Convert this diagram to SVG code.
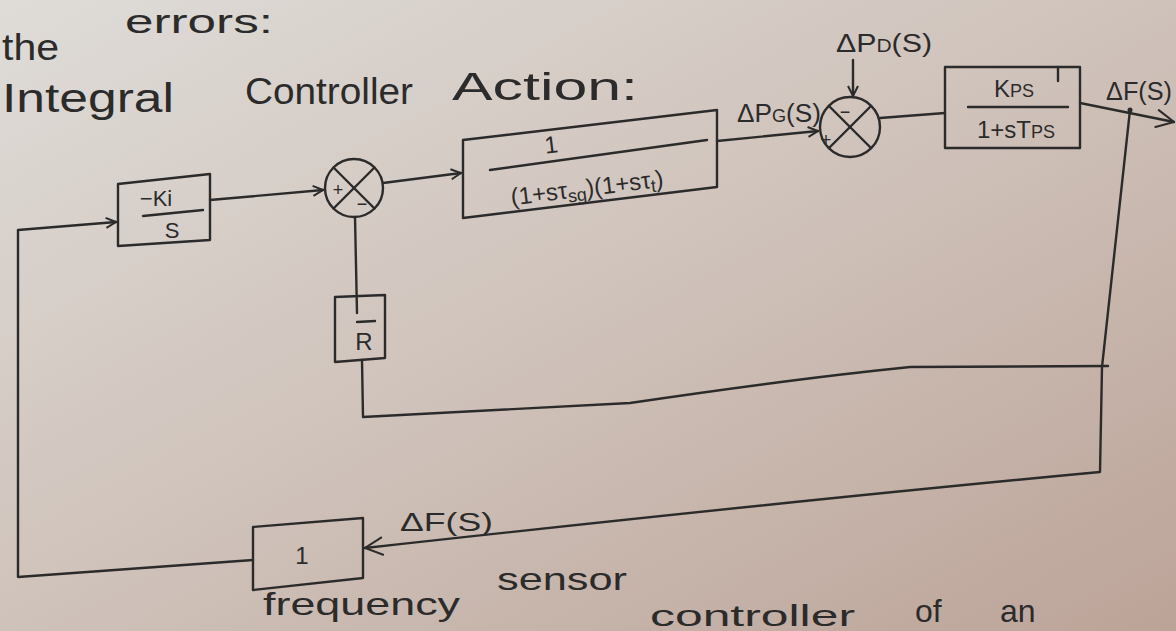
<svg xmlns="http://www.w3.org/2000/svg" width="1176" height="631" viewBox="0 0 1176 631">
<defs>
<linearGradient id="paper" x1="0" y1="0" x2="1" y2="1">
<stop offset="0" stop-color="#dfdcd8"/>
<stop offset="0.5" stop-color="#cfc2ba"/>
<stop offset="1" stop-color="#bca398"/>
</linearGradient>
<marker id="arr" viewBox="0 0 12 12" refX="11" refY="6" markerWidth="12" markerHeight="12" markerUnits="userSpaceOnUse" orient="auto">
<path d="M1,1 L11,6 L1,11" fill="none" stroke="#2b2b2b" stroke-width="2"/>
</marker>
<marker id="arrL" viewBox="0 0 20 20" refX="19" refY="10" markerWidth="20" markerHeight="20" markerUnits="userSpaceOnUse" orient="auto">
<path d="M1,1 L19,10 L1,19" fill="none" stroke="#2b2b2b" stroke-width="2"/>
</marker>
</defs>
<style>
.ink{fill:none;stroke:#2b2b2b;stroke-width:2.4;stroke-linecap:round;stroke-linejoin:round}
.t{font-family:"Liberation Sans","DejaVu Sans",sans-serif;fill:#2b2b2b}
.lb{font-size:26px}
.bx{font-size:24px}
.sg{font-size:18px}
</style>
<rect x="0" y="0" width="1176" height="631" fill="url(#paper)"/>

<g id="page-text">
<text class="t" font-size="34" x="125" y="33" textLength="148" lengthAdjust="spacingAndGlyphs">errors:</text>
<text class="t" font-size="36" x="2" y="60" textLength="57" lengthAdjust="spacingAndGlyphs">the</text>
<text class="t" font-size="40" x="2" y="112" textLength="172" lengthAdjust="spacingAndGlyphs">Integral</text>
<text class="t" font-size="36" x="245" y="104" textLength="168" lengthAdjust="spacingAndGlyphs">Controller</text>
<text class="t" font-size="38" x="452" y="100" textLength="186" lengthAdjust="spacingAndGlyphs">Action:</text>
<text class="t" font-size="32" x="263" y="615" textLength="197" lengthAdjust="spacingAndGlyphs">frequency</text>
<text class="t" font-size="32" x="497" y="590" textLength="130" lengthAdjust="spacingAndGlyphs">sensor</text>
<text class="t" font-size="30" x="650" y="626" textLength="205" lengthAdjust="spacingAndGlyphs">controller</text>
<text class="t" font-size="32" x="915" y="622">of</text>
<text class="t" font-size="32" x="1000" y="622">an</text>
</g>

<g id="connectors">
<path class="ink" d="M253,560 L18,577 L18,230 L116,222" marker-end="url(#arr)"/>
<path class="ink" d="M210,200 L323,190" marker-end="url(#arr)"/>
<path class="ink" d="M383,183 L461,173" marker-end="url(#arr)"/>
<path class="ink" d="M355,217 L357,313"/>
<path class="ink" d="M362,360 L363,417 L630,403 Q800,378 910,367 L1108,366"/>
<path class="ink" d="M717,141 L818,131" marker-end="url(#arr)"/>
<path class="ink" d="M853,60 L853,96" marker-end="url(#arr)"/>
<path class="ink" d="M880,118 L945,113"/>
<path class="ink" d="M1080,103 L1174,122" marker-end="url(#arrL)"/>
<path class="ink" d="M1130,110 L1102,367 L1100,472 Q800,500 365,548" marker-end="url(#arrL)"/>
<circle cx="1130" cy="110" r="2.5" fill="#2b2b2b"/>
<text class="t lb" x="737" y="122" textLength="84" lengthAdjust="spacingAndGlyphs">ΔP<tspan class="sg">G</tspan>(S)</text>
<text class="t lb" x="836" y="52" textLength="96" lengthAdjust="spacingAndGlyphs">ΔP<tspan class="sg">D</tspan>(S)</text>
<text class="t lb" x="1106" y="100" textLength="66" lengthAdjust="spacingAndGlyphs">ΔF(S)</text>
<text class="t lb" x="400" y="531" textLength="93" lengthAdjust="spacingAndGlyphs">ΔF(S)</text>
</g>

<g id="integral-block">
<polygon class="ink" points="118,184 210,174 210,240 118,246"/>
<text class="t" x="156" y="206" font-size="22" text-anchor="middle">−Ki</text>
<line class="ink" x1="143" y1="216" x2="203" y2="210"/>
<text class="t" x="172" y="238" font-size="22" text-anchor="middle">S</text>
</g>

<g id="sum1">
<circle class="ink" cx="354" cy="188" r="29"/>
<line class="ink" x1="333.5" y1="167.5" x2="374.5" y2="208.5"/>
<line class="ink" x1="374.5" y1="167.5" x2="333.5" y2="208.5"/>
<text class="t" x="338" y="196" font-size="18" text-anchor="middle">+</text>
<text class="t" x="362" y="210" font-size="18" text-anchor="middle">−</text>
</g>

<g id="droop-block">
<polygon class="ink" points="335,297 385,295 385,358 335,362"/>
<line class="ink" x1="357" y1="322" x2="375" y2="321"/>
<text class="t bx" x="364" y="350" text-anchor="middle">R</text>
</g>

<g id="governor-turbine-block">
<polygon class="ink" points="463,140 717,110 717,187 463,218"/>
<line class="ink" x1="490" y1="170" x2="707" y2="140"/>
<text class="t bx" transform="translate(552,153) rotate(-7)" text-anchor="middle">1</text>
<text class="t bx" transform="translate(588,196) rotate(-7)" text-anchor="middle">(1+sτ<tspan class="sg" dy="4">sg</tspan><tspan dy="-4">)(1+sτ</tspan><tspan class="sg" dy="4">t</tspan><tspan dy="-4">)</tspan></text>
</g>

<g id="sum2">
<circle class="ink" cx="850" cy="127" r="30"/>
<line class="ink" x1="829" y1="106" x2="871" y2="148"/>
<line class="ink" x1="871" y1="106" x2="829" y2="148"/>
<text class="t" x="845" y="118" font-size="18" text-anchor="middle">−</text>
<text class="t" x="826" y="146" font-size="18" text-anchor="middle">+</text>
</g>

<g id="power-system-block">
<polygon class="ink" points="945,67 1080,67 1080,148 945,148"/>
<line class="ink" x1="1058" y1="67" x2="1058" y2="81"/>
<text class="t bx" x="1014" y="97" text-anchor="middle">K<tspan class="sg">PS</tspan></text>
<line class="ink" x1="968" y1="107" x2="1068" y2="107"/>
<text class="t bx" x="1016" y="138" text-anchor="middle">1+sT<tspan class="sg">PS</tspan></text>
</g>

<g id="frequency-sensor">
<polygon class="ink" points="253,527 363,518 363,578 253,590"/>
<text class="t bx" x="302" y="564" text-anchor="middle">1</text>
</g>
</svg>
